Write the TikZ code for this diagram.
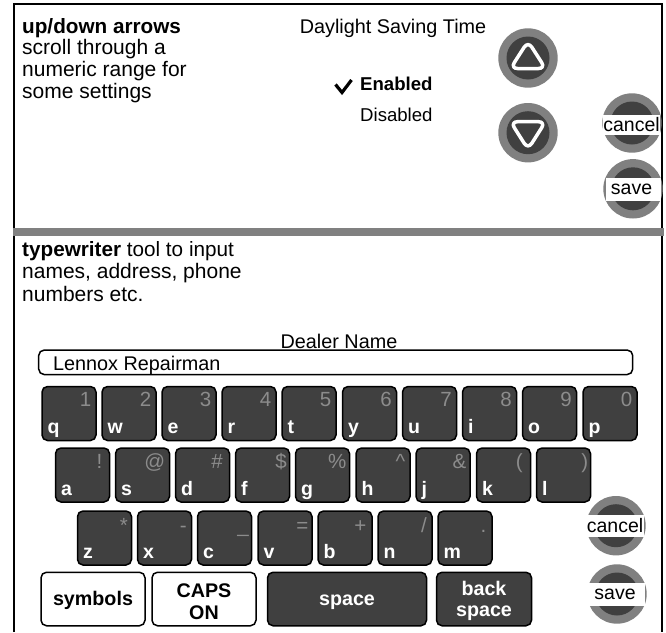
\documentclass[tikz,border=0pt]{standalone}
\usepackage{fontspec}
\setmainfont{Liberation Sans}
\definecolor{keydark}{HTML}{404040}
\definecolor{ringgray}{HTML}{808080}
\definecolor{keygray}{HTML}{8C8C8C}
\tikzset{
  keycap/.style={draw=black,line width=1.5pt,fill=keydark,rounded corners=5.5pt,inner sep=0pt},
  sqkey/.style={keycap,minimum width=54pt,minimum height=54pt},
  whitecap/.style={draw=black,line width=1.5pt,fill=white,rounded corners=5.5pt,inner sep=0pt},
  letter/.style={text=white,font=\fontsize{19.5}{20}\selectfont\bfseries,anchor=base west,inner sep=0pt},
  upper/.style={text=keygray,font=\fontsize{20.5}{21}\selectfont,anchor=base east,inner sep=0pt},
  capt/.style={font=\fontsize{19.7}{19.7}\selectfont\bfseries,anchor=base,inner sep=0pt},
  body/.style={font=\fontsize{21}{21}\selectfont,anchor=base west,inner sep=0pt},
  small/.style={font=\fontsize{18.6}{21}\selectfont,anchor=base west,inner sep=0pt},
  mid/.style={font=\fontsize{19.8}{21}\selectfont,anchor=base west,inner sep=0pt},
  ring/.style={circle,fill=ringgray,inner sep=0pt,minimum size=59.4pt},
  hub/.style={circle,fill=keydark,inner sep=0pt,minimum size=43pt},
  band/.style={fill=white,inner sep=0pt,text=black,font=\fontsize{19.5}{19.5}\selectfont},
  arrowline/.style={draw=white,line width=3.5pt,rounded corners=7pt,line join=round},
}
\begin{document}
\begin{tikzpicture}[x=1pt,y=-1pt]
\useasboundingbox (0,0) rectangle (666,632);
\fill[white] (0,0) rectangle (666,632);
% frame
\draw[black,line width=2pt] (14.3,632) -- (14.3,4) -- (662,4) -- (662,632);
\fill[ringgray] (13,228) rectangle (664,236);
% top panel text
\node[body,font=\fontsize{20.7}{21}\selectfont\bfseries] (t1) at (22,33) {up/down arrows};
\node[body] (t2) at (22,54.5) {scroll through a};
\node[body] (t3) at (22,76.5) {numeric range for};
\node[body] (t4) at (22,98.5) {some settings};
\node[mid,anchor=base] (dst) at (393,33) {Daylight Saving Time};
\node[small,font=\fontsize{18.6}{21}\selectfont\bfseries] (en) at (360,90) {Enabled};
\node[small] (dis) at (360,121) {Disabled};
\draw[black,line width=3.2pt,line join=miter] (335.5,84.5) -- (342,92.5) -- (351.5,80);
% arrows
\node[ring] (upr) at (528,58) {};
\node[hub] (uph) at (528,58) {};
\draw[arrowline] (528,41.2) -- (545.5,68.5) -- (510.5,68.5) -- cycle;
\node[ring] (dnr) at (528,132.7) {};
\node[hub] (dnh) at (528,132.7) {};
\draw[arrowline] (528,149.3) -- (545.5,121.7) -- (510.5,121.7) -- cycle;
% cancel / save top
\node[ring] (c1) at (632,123) {};
\node[hub] (c1h) at (632,123) {};
\node[band,minimum width=57pt,minimum height=20pt] (c1t) at (631.5,125) {cancel};
\node[ring] (s1) at (633,188.8) {};
\node[hub] (s1h) at (633,188.8) {};
\node[band,minimum width=55pt,minimum height=22.5pt] (s1t) at (633,189.3) {\hspace{-3pt}save};
% typewriter text
\node[body,font=\fontsize{20.7}{21}\selectfont] (w1) at (22,256.5) {\bfseries typewriter\normalfont{} tool to input};
\node[body] (w2) at (22,278.5) {names, address, phone};
\node[body] (w3) at (22,301) {numbers etc.};
\node[mid,anchor=base] (dn) at (339,348) {Dealer Name};
\node[draw=black,line width=1.5pt,rounded corners=5.5pt,minimum width=594pt,minimum height=24.5pt,inner sep=0pt] (inp) at (335.7,362.3) {};
\node[mid] (lr) at (53,370) {Lennox Repairman};
% row 1
\foreach \n/\cx/\b in {q/69/1,w/129/2,e/189/3,r/249/4,t/309/5,y/369.5/6,u/429.5/7,i/489.5/8,o/549.5/9,p/610/0}{
  \node[sqkey] (k\n) at (\cx,413.5) {};
  \node[letter] (k\n l) at (\cx-21.5,433) {\n};
  \node[upper] (k\n u) at (\cx+22.5,406.5) {\b};
}
% row 2
\foreach \n/\cx/\d/\b in {a/82.5/20/!,s/142.5/23/@,d/202.5/20.5/\#,f/262.5/24.5/\$,g/322.5/24/\%,h/383/22.5/\textasciicircum,j/443/23.5/\&,k/503.5/19.5/(,l/563.5/25/)}{
  \node[sqkey] (k\n) at (\cx,475) {};
  \node[letter] (k\n l) at (\cx-21.5,495) {\n};
  \node[upper] (k\n u) at (\cx+\d,468.5) {\b};
}
% row 3
\foreach \n/\cx/\d/\b in {z/104.5/23.5/*,x/164.5/22.5/-,c/224.5/24.5/\_,v/285/23.5/=,b/345/21.5/+,n/405/22/{/},m/465/21.5/.}{
  \node[sqkey] (k\n) at (\cx,538) {};
  \node[letter] (k\n l) at (\cx-21.5,558.5) {\n};
  \node[upper] (k\n u) at (\cx+\d,532.5) {\b};
}
% row 4
\node[whitecap,minimum width=104pt,minimum height=53.5pt] (sym) at (93,599) {};
\node[capt] (syml) at (sym.center |- 0,605) {symbols};
\node[whitecap,minimum width=104pt,minimum height=53.5pt] (caps) at (204,599) {};
\node[capt] (capsa) at (caps.center |- 0,597.5) {CAPS};
\node[capt] (capsb) at (caps.center |- 0,619) {ON};
\node[keycap,minimum width=159pt,minimum height=53.5pt] (spc) at (347,599) {};
\node[capt,text=white] (spcl) at (spc.center |- 0,605) {space};
\node[keycap,minimum width=95pt,minimum height=53.5pt] (bsp) at (484,599) {};
\node[capt,text=white] (bspa) at (bsp.center |- 0,595) {back};
\node[capt,text=white] (bspb) at (bsp.center |- 0,616.5) {space};
% cancel / save lower
\node[ring] (c2) at (616,525.7) {};
\node[hub] (c2h) at (616,525.7) {};
\node[band,minimum width=58pt,minimum height=22pt] (c2t) at (615,525.7) {cancel};
\node[ring] (s2) at (617,594) {};
\node[hub] (s2h) at (617,594) {};
\node[band,minimum width=58pt,minimum height=23pt] (s2t) at (616,594.5) {\hspace{-2pt}save};
\end{tikzpicture}
\end{document}
